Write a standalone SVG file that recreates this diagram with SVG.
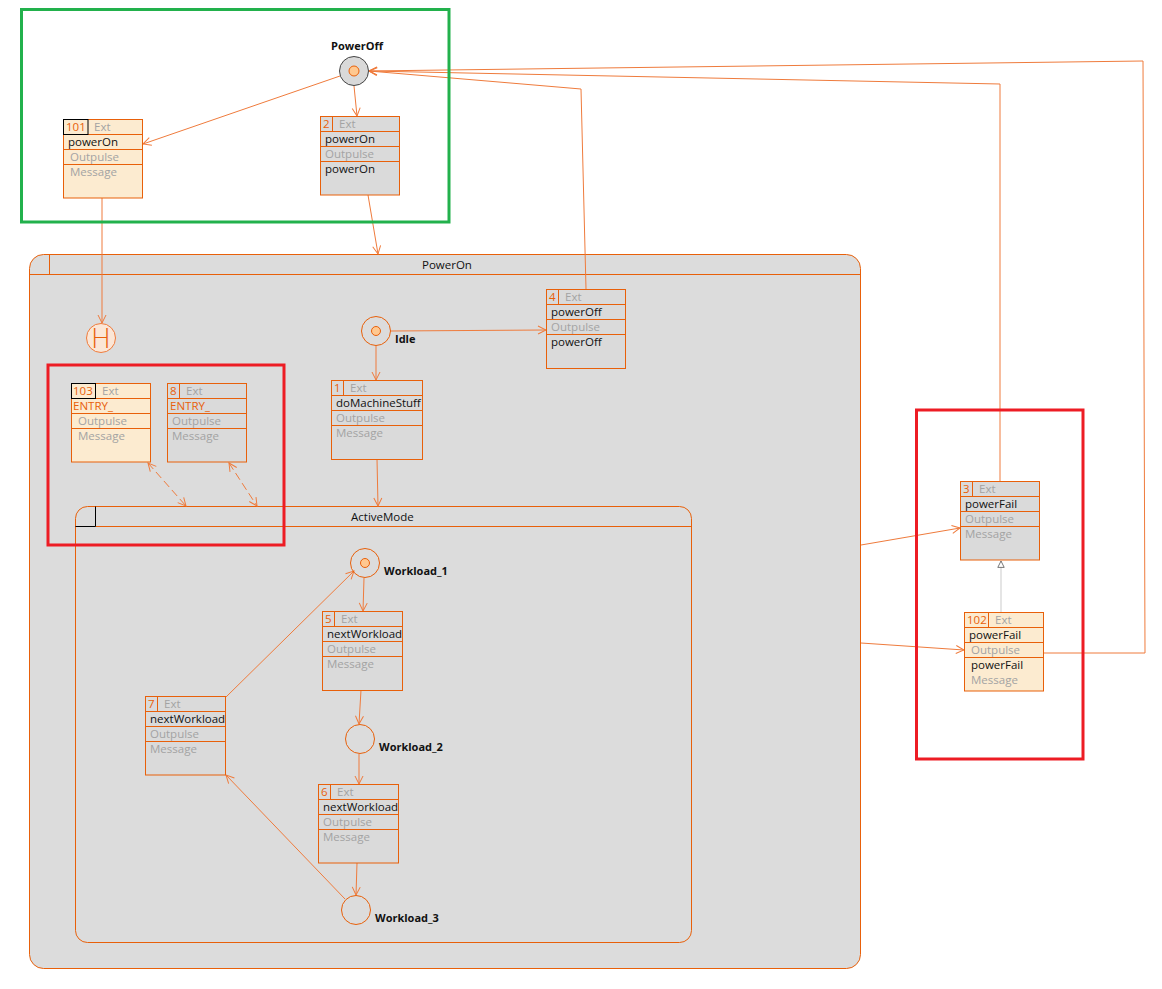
<svg xmlns="http://www.w3.org/2000/svg" width="1162" height="989" viewBox="0 0 1162 989">
<style>
text{font-family:"Open Sans","Noto Sans","DejaVu Sans",sans-serif;font-size:11.5px}
.bx{stroke:#e8600a;stroke-width:1}
.beige{fill:#fcebd0}
.grey{fill:#dadada}
.sep{stroke:#e8600a;stroke-width:1;fill:none}
.num{fill:#e8600a}
.g{fill:#a3a3a3}
.k{fill:#111}
.o{fill:#e8600a}
.lbl{font-size:11px;font-weight:bold;fill:#111}
.cn{fill:none;stroke:#ef7b3c;stroke-width:1}
.dash{stroke-dasharray:8,4}
.cont{fill:#dcdcdc;stroke:#e8600a;stroke-width:1}
.st{stroke:#e8600a;stroke-width:1}
.ann{fill:none;stroke-width:3}
</style>
<defs>
<marker id="arr" viewBox="0 0 10 10" refX="9" refY="5" markerWidth="10" markerHeight="10" markerUnits="userSpaceOnUse" orient="auto-start-reverse">
<path d="M1,1 L9,5 L1,9" fill="none" stroke="#ef7b3c" stroke-width="1"/>
</marker>
<marker id="tri" viewBox="0 0 10 10" refX="9" refY="5" markerWidth="8" markerHeight="9" markerUnits="userSpaceOnUse" orient="auto">
<path d="M1,1 L9,5 L1,9 Z" fill="#fff" stroke="#555" stroke-width="1"/>
</marker>
</defs>
<rect width="1162" height="989" fill="#fff"/>

<g id="PowerOn">
<rect class="cont" x="29.5" y="254.5" width="831" height="714" rx="14"/>
<line class="sep" x1="29.5" y1="274.5" x2="860.5" y2="274.5"/>
<line class="sep" x1="49.5" y1="254.5" x2="49.5" y2="274.5"/>
<text x="422" y="269" class="k">PowerOn</text>
</g>

<g id="ActiveMode">
<rect class="cont" x="75.5" y="506.5" width="616" height="436" rx="12"/>
<line class="sep" x1="95.5" y1="526.5" x2="691.5" y2="526.5"/>
<path d="M95.5,506.5 V526.5 H75.5" fill="none" stroke="#000" stroke-width="1"/>
<text x="351" y="521" class="k">ActiveMode</text>
</g>

<g id="connectors">
<path class="cn" d="M340,76 L143,144" marker-end="url(#arr)"/>
<path class="cn" d="M354,86 L357,116" marker-end="url(#arr)"/>
<path class="cn" d="M368,195 L378,254" marker-end="url(#arr)"/>
<path class="cn" d="M102,198 L102,323" marker-end="url(#arr)"/>
<path class="cn" d="M376,346 L376,380" marker-end="url(#arr)"/>
<path class="cn" d="M391,331 L546,330" marker-end="url(#arr)"/>
<path class="cn" d="M586,289 L581,89 L369,71" marker-end="url(#arr)"/>
<path class="cn" d="M1000,481 L1000,84 L369,71" marker-end="url(#arr)"/>
<path class="cn" d="M1044,653 L1145,653 L1143,61 L369,71" marker-end="url(#arr)"/>
<path class="cn" d="M377,459 L378,506" marker-end="url(#arr)"/>
<path class="cn dash" d="M148,463 L186,506" marker-start="url(#arr)" marker-end="url(#arr)"/>
<path class="cn dash" d="M229,463 L257,506" marker-start="url(#arr)" marker-end="url(#arr)"/>
<path class="cn" d="M364,578 L363,611" marker-end="url(#arr)"/>
<path class="cn" d="M361,690 L359,724" marker-end="url(#arr)"/>
<path class="cn" d="M359,754 L359,784" marker-end="url(#arr)"/>
<path class="cn" d="M357,863 L356,895" marker-end="url(#arr)"/>
<path class="cn" d="M345,899 L226,775" marker-end="url(#arr)"/>
<path class="cn" d="M226,697 L354,571" marker-end="url(#arr)"/>
<path class="cn" d="M861,545 L960,528" marker-end="url(#arr)"/>
<path class="cn" d="M861,643 L964,650" marker-end="url(#arr)"/>
<path d="M1001,612 L1001,561" fill="none" stroke="#d4d4d4" stroke-width="1.2" marker-end="url(#tri)"/>
</g>

<g id="PowerOff">
<circle cx="354" cy="71" r="14.5" fill="#d9d9d9" stroke="#444" stroke-width="1"/>
<circle cx="354" cy="71" r="5" fill="#ffc890" stroke="#e8600a" stroke-width="1"/>
<text x="357" y="50" class="lbl" text-anchor="middle">PowerOff</text>
</g>

<g id="History">
<circle cx="101" cy="338" r="14.5" fill="#fbe6d6" stroke="#ef7b3c" stroke-width="1"/>
<text x="101" y="348" text-anchor="middle" style="font-family:'DejaVu Sans',sans-serif;font-size:27px;font-weight:200" class="o">H</text>
</g>

<g id="Idle">
<circle cx="376" cy="331" r="14.5" fill="none" class="st"/>
<circle cx="376" cy="331" r="4.5" fill="#ffc890" class="st"/>
<text x="395" y="343" class="lbl">Idle</text>
</g>

<g id="Workload_1">
<circle cx="365" cy="563" r="14.5" fill="none" class="st"/>
<circle cx="365" cy="563" r="4.5" fill="#ffc890" class="st"/>
<text x="384" y="575" class="lbl">Workload_1</text>
</g>

<g id="Workload_2">
<circle cx="360" cy="739" r="14.5" fill="none" class="st"/>
<text x="379" y="751" class="lbl">Workload_2</text>
</g>

<g id="Workload_3">
<circle cx="356" cy="910" r="14.5" fill="none" class="st"/>
<text x="375" y="922" class="lbl">Workload_3</text>
</g>

<g id="box-101">
<rect class="bx beige" x="63.5" y="119.5" width="79" height="78.5"/>
<path class="sep" d="M63.5,134.5 H142.5 M63.5,149.5 H142.5 M63.5,164.5 H142.5"/>
<rect x="63.5" y="119.5" width="24.5" height="15" fill="none" stroke="#000" stroke-width="1"/>
<text x="66" y="131" class="num">101</text>
<text x="94" y="131" class="g">Ext</text>
<text x="68" y="146" class="k">powerOn</text>
<text x="70" y="161" class="g">Outpulse</text>
<text x="70" y="176" class="g">Message</text>
</g>

<g id="box-2">
<rect class="bx grey" x="320.5" y="116.5" width="79" height="78.5"/>
<path class="sep" d="M320.5,131.5 H399.5 M320.5,146.5 H399.5 M320.5,161.5 H399.5 M332.5,116.5 V131.5"/>
<text x="323" y="128" class="num">2</text>
<text x="339" y="128" class="g">Ext</text>
<text x="325" y="143" class="k">powerOn</text>
<text x="325" y="158" class="g">Outpulse</text>
<text x="325" y="173" class="k">powerOn</text>
</g>

<g id="box-103">
<rect class="bx beige" x="71.5" y="383.5" width="79" height="78.5"/>
<path class="sep" d="M71.5,398.5 H150.5 M71.5,413.5 H150.5 M71.5,428.5 H150.5"/>
<rect x="71.5" y="383.5" width="24" height="15" fill="none" stroke="#000" stroke-width="1"/>
<text x="73" y="395" class="num">103</text>
<text x="102" y="395" class="g">Ext</text>
<text x="73" y="410" class="o">ENTRY_</text>
<text x="78" y="425" class="g">Outpulse</text>
<text x="78" y="440" class="g">Message</text>
</g>

<g id="box-8">
<rect class="bx grey" x="167.5" y="383.5" width="79" height="78.5"/>
<path class="sep" d="M167.5,398.5 H246.5 M167.5,413.5 H246.5 M167.5,428.5 H246.5 M179.5,383.5 V398.5"/>
<text x="170" y="395" class="num">8</text>
<text x="186" y="395" class="g">Ext</text>
<text x="170" y="410" class="o">ENTRY_</text>
<text x="172" y="425" class="g">Outpulse</text>
<text x="172" y="440" class="g">Message</text>
</g>

<g id="box-1">
<rect class="bx grey" x="331.5" y="380.5" width="91" height="79"/>
<path class="sep" d="M331.5,395.5 H422.5 M331.5,410.5 H422.5 M331.5,425.5 H422.5 M343.5,380.5 V395.5"/>
<text x="334" y="392" class="num">1</text>
<text x="350" y="392" class="g">Ext</text>
<text x="336" y="407" class="k">doMachineStuff</text>
<text x="336" y="422" class="g">Outpulse</text>
<text x="336" y="437" class="g">Message</text>
</g>

<g id="box-4">
<rect class="bx grey" x="546.5" y="289.5" width="79" height="79"/>
<path class="sep" d="M546.5,304.5 H625.5 M546.5,319.5 H625.5 M546.5,334.5 H625.5 M558.5,289.5 V304.5"/>
<text x="549" y="301" class="num">4</text>
<text x="565" y="301" class="g">Ext</text>
<text x="551" y="316" class="k">powerOff</text>
<text x="551" y="331" class="g">Outpulse</text>
<text x="551" y="346" class="k">powerOff</text>
</g>

<g id="box-5">
<rect class="bx grey" x="322.5" y="611.5" width="80" height="79"/>
<path class="sep" d="M322.5,626.5 H402.5 M322.5,641.5 H402.5 M322.5,656.5 H402.5 M334.5,611.5 V626.5"/>
<text x="325" y="623" class="num">5</text>
<text x="341" y="623" class="g">Ext</text>
<text x="327" y="638" class="k">nextWorkload</text>
<text x="327" y="653" class="g">Outpulse</text>
<text x="327" y="668" class="g">Message</text>
</g>

<g id="box-6">
<rect class="bx grey" x="318.5" y="784.5" width="80" height="78.5"/>
<path class="sep" d="M318.5,799.5 H398.5 M318.5,814.5 H398.5 M318.5,829.5 H398.5 M330.5,784.5 V799.5"/>
<text x="321" y="796" class="num">6</text>
<text x="337" y="796" class="g">Ext</text>
<text x="323" y="811" class="k">nextWorkload</text>
<text x="323" y="826" class="g">Outpulse</text>
<text x="323" y="841" class="g">Message</text>
</g>

<g id="box-7">
<rect class="bx grey" x="145.5" y="696.5" width="80" height="78.5"/>
<path class="sep" d="M145.5,711.5 H225.5 M145.5,726.5 H225.5 M145.5,741.5 H225.5 M157.5,696.5 V711.5"/>
<text x="148" y="708" class="num">7</text>
<text x="164" y="708" class="g">Ext</text>
<text x="150" y="723" class="k">nextWorkload</text>
<text x="150" y="738" class="g">Outpulse</text>
<text x="150" y="753" class="g">Message</text>
</g>

<g id="box-3">
<rect class="bx grey" x="960.5" y="481.5" width="79" height="78.5"/>
<path class="sep" d="M960.5,496.5 H1039.5 M960.5,511.5 H1039.5 M960.5,526.5 H1039.5 M972.5,481.5 V496.5"/>
<text x="963" y="493" class="num">3</text>
<text x="979" y="493" class="g">Ext</text>
<text x="965" y="508" class="k">powerFail</text>
<text x="965" y="523" class="g">Outpulse</text>
<text x="965" y="538" class="g">Message</text>
</g>

<g id="box-102">
<rect class="bx beige" x="964.5" y="612.5" width="79" height="78.5"/>
<path class="sep" d="M964.5,627.5 H1043.5 M964.5,642.5 H1043.5 M964.5,657.5 H1043.5 M988.5,612.5 V627.5"/>
<text x="967" y="624" class="num">102</text>
<text x="995" y="624" class="g">Ext</text>
<text x="969" y="639" class="k">powerFail</text>
<text x="971" y="654" class="g">Outpulse</text>
<text x="971" y="669" class="k">powerFail</text>
<text x="971" y="684" class="g">Message</text>
</g>

<g id="annotations">
<rect class="ann" x="21.5" y="9.5" width="427.5" height="212.5" stroke="#22b14c"/>
<rect class="ann" x="48" y="365" width="236" height="180" stroke="#ed1c24"/>
<rect class="ann" x="916.5" y="410" width="166.5" height="349" stroke="#ed1c24"/>
</g>
</svg>
